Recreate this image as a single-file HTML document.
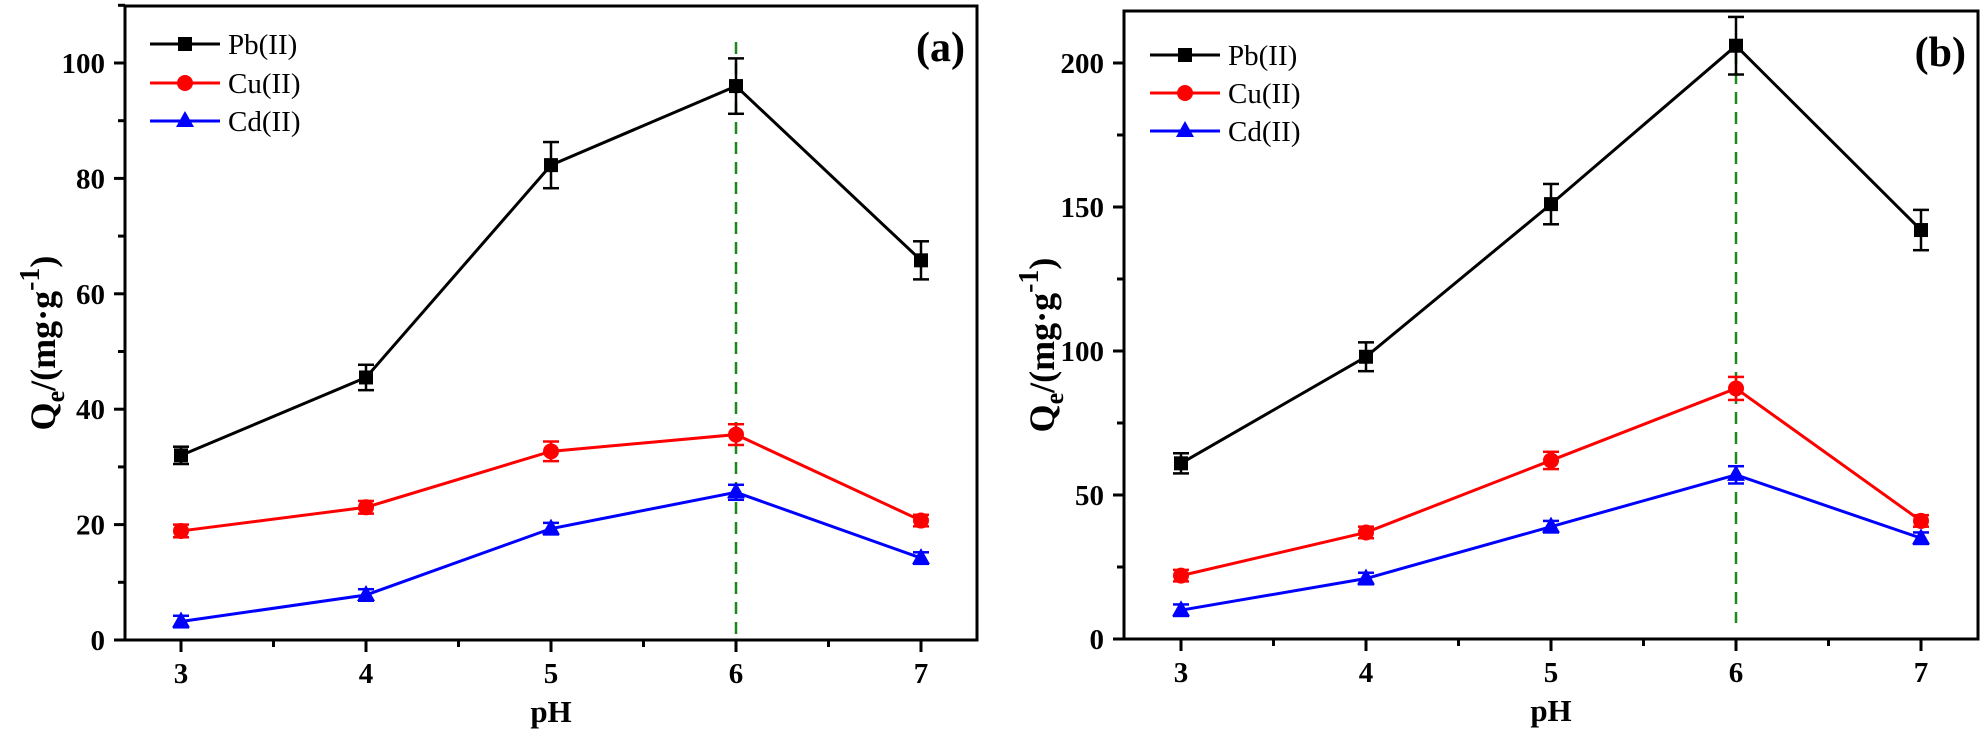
<!DOCTYPE html>
<html><head><meta charset="utf-8"><style>
html,body{margin:0;padding:0;background:#fff;width:1984px;height:734px;overflow:hidden}
svg text{font-family:"Liberation Serif",serif}
</style></head><body>
<svg id="s" width="1984" height="734" xmlns="http://www.w3.org/2000/svg"></svg>
<script>
const s=document.getElementById('s');let h='';
function panel(o){
 const {L,R,T,B,x3,ymax,ystep,minor,lab,Y,dashTop,dashBot,legY,legX}=o;
 const px=v=>x3+(v-3)*185;
 h+=`<line x1="${px(6)}" y1="${dashTop}" x2="${px(6)}" y2="${dashBot}" stroke="#1a8a1a" stroke-width="2.5" stroke-dasharray="12,8"/>`;
 for(let v=0;v<=ymax;v+=minor){const y=Y(v);const maj=Math.abs(v/ystep-Math.round(v/ystep))<1e-6;
  h+=`<line x1="${L-(maj?11:7)}" y1="${y}" x2="${L}" y2="${y}" stroke="#000" stroke-width="3"/>`;
  if(maj)h+=`<text x="${L-20}" y="${y+10}" font-size="29" font-weight="bold" text-anchor="end">${v}</text>`;}
 for(let v=3;v<=7;v+=0.5){const x=px(v);const maj=v%1==0;
  h+=`<line x1="${x}" y1="${B}" x2="${x}" y2="${B+(maj?12:7)}" stroke="#000" stroke-width="3"/>`;
  if(maj)h+=`<text x="${x}" y="${B+43}" font-size="29" font-weight="bold" text-anchor="middle">${v}</text>`;}
 h+=`<rect x="${L}" y="${T}" width="${R-L}" height="${B-T}" fill="none" stroke="#000" stroke-width="3"/>`;
 h+=`<text x="${(L+R)/2}" y="${B+82}" font-size="31" font-weight="bold" text-anchor="middle">pH</text>`;
 h+=`<text transform="translate(${L-70},${(T+B)/2+20}) rotate(-90)" font-size="36" font-weight="bold" text-anchor="middle">Q<tspan font-size="26" dy="9">e</tspan><tspan dy="-9">/(mg·g</tspan><tspan font-size="28" dy="-16">-1</tspan><tspan dy="16">)</tspan></text>`;
 h+=`<text x="${R-12}" y="${T+55}" font-size="42" font-weight="bold" text-anchor="end">${lab}</text>`;
 const ser=[['#000','sq',o.pb,o.pbe,'Pb(II)'],['#f00','ci',o.cu,o.cue,'Cu(II)'],['#00f','tr',o.cd,o.cde,'Cd(II)']];
 function mk(t,x,y,c){if(t=='sq')return `<rect x="${x-7}" y="${y-7}" width="14" height="14" fill="${c}"/>`;
  if(t=='ci')return `<circle cx="${x}" cy="${y}" r="8" fill="${c}"/>`;
  return `<polygon points="${x},${y-10} ${x+9},${y+6} ${x-9},${y+6}" fill="${c}"/>`;}
 ser.forEach((sr,i)=>{const [c,t,d,e,name]=sr;
  h+=`<polyline points="${d.map((v,k)=>px(3+k)+','+Y(v)).join(' ')}" fill="none" stroke="${c}" stroke-width="3"/>`;
  d.forEach((v,k)=>{const x=px(3+k),y1=Y(v+e[k]),y2=Y(v-e[k]);
   h+=`<line x1="${x}" y1="${y1}" x2="${x}" y2="${y2}" stroke="${c}" stroke-width="2.5"/><line x1="${x-8}" y1="${y1}" x2="${x+8}" y2="${y1}" stroke="${c}" stroke-width="2.5"/><line x1="${x-8}" y1="${y2}" x2="${x+8}" y2="${y2}" stroke="${c}" stroke-width="2.5"/>`;
   h+=mk(t,x,Y(v),c);});
  const ly=legY[i];
  h+=`<line x1="${legX}" y1="${ly}" x2="${legX+70}" y2="${ly}" stroke="${c}" stroke-width="3"/>`+mk(t,legX+35,ly,c);
  h+=`<text x="${legX+78}" y="${ly+10}" font-size="29">${name}</text>`;});
}
panel({L:125,R:977,T:6,B:640,x3:181,ymax:110,ystep:20,minor:10,lab:'(a)',Y:v=>640-5.77*v,dashTop:42,dashBot:640,legY:[44,83,121],legX:150,
 pb:[32,45.5,82.3,96,65.8],pbe:[1.5,2.2,4,4.8,3.3],cu:[18.9,23,32.7,35.6,20.7],cue:[1.1,1.1,1.7,1.8,1],cd:[3.2,7.8,19.3,25.6,14.2],cde:[1,1,1,1.3,1]});
panel({L:1124,R:1978,T:11,B:639,x3:1181,ymax:200,ystep:50,minor:25,lab:'(b)',Y:v=>639-2.88*v,dashTop:52,dashBot:623,legY:[55,93,131],legX:1150,
 pb:[61,98,151,206,142],pbe:[3.5,5,7,10,7],cu:[22,37,62,87,41],cue:[2,2,3,4,2],cd:[10,21,39,57,35],cde:[2,2,2,3,2]});
s.innerHTML=h;
</script>
</body></html>
